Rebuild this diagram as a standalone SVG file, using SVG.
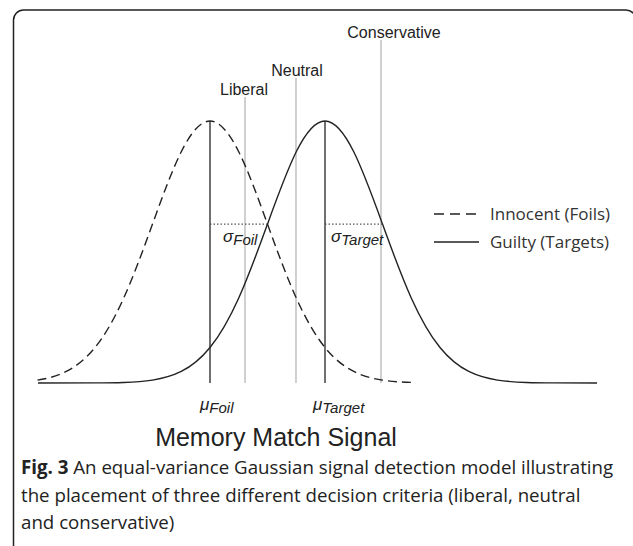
<svg xmlns="http://www.w3.org/2000/svg" width="633" height="546" viewBox="0 0 633 546">
  <style>
    .frame { fill: none; stroke: #222; stroke-width: 1.5; }
    .curve { fill: none; stroke: #222; stroke-width: 1.4; stroke-linejoin: round; }
    .foil { stroke-dasharray: 9 5; }
    .mean { stroke: #222; stroke-width: 1.3; }
    .crit { stroke: #c4c4c4; stroke-width: 1.6; }
    .sd { stroke: #555; stroke-width: 1.1; stroke-dasharray: 1.5 2; }
    .lbl { font-family: "Liberation Sans", Arial, sans-serif; fill: #222; }
    .crit-lbl { font-size: 16px; text-anchor: middle; }
    .greek { font-size: 17px; font-style: italic; }
    .sub { font-size: 15px; }
    .axis { font-size: 25px; text-anchor: middle; }
    .legend { font-family: "Open Sans", "Noto Sans", sans-serif; font-size: 17px; fill: #333; }
    .caption { font-family: "Open Sans", "Noto Sans", sans-serif; font-size: 18.7px; fill: #222; }
  </style>

  <!-- outer rounded frame, right and bottom edges run off the canvas -->
  <rect class="frame" x="13.5" y="10" width="622.5" height="560" rx="10" ry="10"/>

  <!-- decision criteria -->
  <g id="criterion-liberal">
    <line class="crit" x1="245" y1="97" x2="245" y2="383"/>
    <text class="lbl crit-lbl" x="244" y="95">Liberal</text>
  </g>
  <g id="criterion-neutral">
    <line class="crit" x1="296" y1="78" x2="296" y2="383"/>
    <text class="lbl crit-lbl" x="297" y="76">Neutral</text>
  </g>
  <g id="criterion-conservative">
    <line class="crit" x1="381" y1="40" x2="381" y2="383"/>
    <text class="lbl crit-lbl" x="394" y="38">Conservative</text>
  </g>

  <!-- distributions: N(210, 57.5) and N(325, 57.5), peak height 262 above y=383 -->
  <g id="dist-foil">
    <path class="curve foil" d="M37.5,380.089
      C47.083,378.634 56.667,376.285 66.25,371.489
      C75.833,366.693 85.417,359.361 95,347.542
      C104.583,335.723 114.167,319.206 123.75,297.941
      C133.333,276.676 142.917,250.574 152.5,224.089
      C162.083,197.604 171.667,171.054 181.25,151.786
      C190.833,132.518 200.417,121 210,121
      C219.583,121 229.167,132.518 238.75,151.786
      C248.333,171.054 257.917,197.604 267.5,224.089
      C277.083,250.574 286.667,276.676 296.25,297.941
      C305.833,319.206 315.417,335.723 325,347.542
      C334.583,359.361 344.167,366.693 353.75,371.489
      C363.333,376.285 372.917,378.634 382.5,380.089
      C392.083,381.544 401.667,382.093 411.25,382.427"/>
    <line class="mean" x1="210" y1="121" x2="210" y2="383"/>
    <line class="sd" x1="210" y1="224.1" x2="267.5" y2="224.1"/>
    <text class="lbl greek" x="223" y="242">σ<tspan class="sub" dy="3">Foil</tspan></text>
    <text class="lbl greek" x="200" y="410">μ<tspan class="sub" dy="3">Foil</tspan></text>
  </g>

  <g id="dist-target">
    <path class="curve" d="M38,383 L95,382.912
      C104.583,382.854 114.167,382.761 123.75,382.427
      C133.333,382.093 142.917,381.544 152.5,380.089
      C162.083,378.634 171.667,376.285 181.25,371.489
      C190.833,366.693 200.417,359.361 210,347.542
      C219.583,335.723 229.167,319.206 238.75,297.941
      C248.333,276.676 257.917,250.574 267.5,224.089
      C277.083,197.604 286.667,171.054 296.25,151.786
      C305.833,132.518 315.417,121 325,121
      C334.583,121 344.167,132.518 353.75,151.786
      C363.333,171.054 372.917,197.604 382.5,224.089
      C392.083,250.574 401.667,276.676 411.25,297.941
      C420.833,319.206 430.417,335.723 440,347.542
      C449.583,359.361 459.167,366.693 468.75,371.489
      C478.333,376.285 487.917,378.634 497.5,380.089
      C507.083,381.544 516.667,382.093 526.25,382.427
      C535.833,382.761 545.417,382.854 555,382.912
      L597,383"/>
    <line class="mean" x1="325" y1="121" x2="325" y2="383"/>
    <line class="sd" x1="325" y1="224.1" x2="382.5" y2="224.1"/>
    <text class="lbl greek" x="331" y="242">σ<tspan class="sub" dy="3">Target</tspan></text>
    <text class="lbl greek" x="313" y="410">μ<tspan class="sub" dy="3">Target</tspan></text>
  </g>

  <!-- legend -->
  <g id="legend">
    <line class="curve foil" x1="434" y1="214" x2="476" y2="214" style="stroke-dasharray: 10 6"/>
    <text class="legend" x="490" y="220">Innocent (Foils)</text>
    <line class="curve" x1="434" y1="242" x2="479" y2="242"/>
    <text class="legend" x="490" y="248">Guilty (Targets)</text>
  </g>

  <text id="axis-title" class="lbl axis" x="276" y="446">Memory Match Signal</text>

  <!-- figure caption -->
  <g id="caption" class="caption">
    <text x="21" y="474"><tspan font-weight="bold">Fig. 3</tspan> An equal-variance Gaussian signal detection model illustrating</text>
    <text x="21" y="502">the placement of three different decision criteria (liberal, neutral</text>
    <text x="21" y="529">and conservative)</text>
  </g>
</svg>
